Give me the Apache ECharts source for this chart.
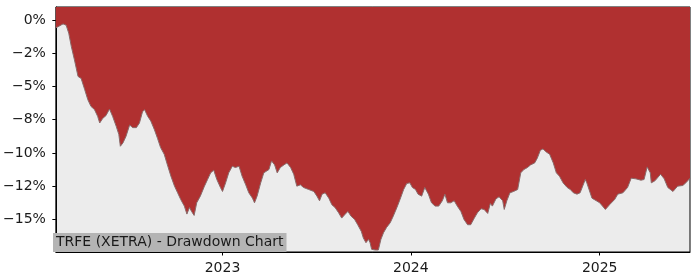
<!DOCTYPE html>
<html>
<head>
<meta charset="utf-8">
<script src="https://cdn.jsdelivr.net/npm/echarts@6/dist/echarts.min.js"></script>
<style>html,body{margin:0;padding:0;background:#fff}#c{width:700px;height:280px}</style>
</head>
<body>
<div id="c"></div>
<script>
const titleText = 'TRFE (XETRA) - Drawdown Chart';
const dates = [
'2022-02-12','2022-02-26','2022-03-04','2022-03-09','2022-03-14','2022-03-20','2022-03-27','2022-04-02','2022-04-09','2022-04-15',
'2022-04-21','2022-04-28','2022-05-04','2022-05-08','2022-05-14','2022-05-20','2022-05-27','2022-06-02','2022-06-09','2022-06-14',
'2022-06-17','2022-06-22','2022-06-28','2022-07-05','2022-07-11','2022-07-18','2022-07-24','2022-07-30','2022-08-03','2022-08-09',
'2022-08-15','2022-08-22','2022-08-28','2022-09-03','2022-09-10','2022-09-17','2022-09-23','2022-09-30','2022-10-06','2022-10-12',
'2022-10-19','2022-10-24','2022-10-29','2022-11-02','2022-11-07','2022-11-12','2022-11-19','2022-11-27','2022-12-03','2022-12-09',
'2022-12-15','2022-12-21','2022-12-28',
'2023-01-01','2023-01-07','2023-01-13','2023-01-20','2023-01-26','2023-02-02','2023-02-08','2023-02-15','2023-02-21','2023-02-28',
'2023-03-04','2023-03-09','2023-03-16','2023-03-22','2023-03-25','2023-04-01','2023-04-06','2023-04-12','2023-04-17','2023-04-23',
'2023-04-30','2023-05-06','2023-05-13','2023-05-19','2023-05-25','2023-06-01','2023-06-07','2023-06-17','2023-06-27','2023-07-03',
'2023-07-08','2023-07-13','2023-07-19','2023-07-26','2023-08-01','2023-08-07','2023-08-14','2023-08-20','2023-08-27','2023-09-01',
'2023-09-07','2023-09-14','2023-09-20','2023-09-27','2023-10-01','2023-10-06','2023-10-11','2023-10-14','2023-10-17','2023-10-24',
'2023-10-30','2023-11-04','2023-11-09','2023-11-15','2023-11-22','2023-11-28','2023-12-05','2023-12-11','2023-12-18','2023-12-24',
'2023-12-30',
'2024-01-04','2024-01-10','2024-01-15','2024-01-22','2024-01-28','2024-02-04','2024-02-10','2024-02-17','2024-02-24','2024-03-02',
'2024-03-07','2024-03-12','2024-03-18','2024-03-25','2024-03-31','2024-04-07','2024-04-13','2024-04-20','2024-04-26','2024-05-03',
'2024-05-09','2024-05-16','2024-05-22','2024-05-29','2024-06-03','2024-06-07','2024-06-14','2024-06-20','2024-06-27','2024-06-30',
'2024-07-05','2024-07-11','2024-07-18','2024-07-26','2024-08-01','2024-08-07','2024-08-14','2024-08-20','2024-08-28','2024-09-02',
'2024-09-08','2024-09-13','2024-09-20','2024-09-26','2024-10-03','2024-10-09','2024-10-15','2024-10-22','2024-10-30','2024-11-05',
'2024-11-11','2024-11-18','2024-11-24','2024-12-04','2024-12-07','2024-12-17',
'2025-01-01','2025-01-12','2025-01-20','2025-01-30','2025-02-05','2025-02-15','2025-02-24','2025-03-03','2025-03-12','2025-03-22',
'2025-03-28','2025-04-03','2025-04-09','2025-04-11','2025-04-18','2025-04-29','2025-05-06','2025-05-13','2025-05-23','2025-06-01',
'2025-06-11','2025-06-17','2025-06-25'
];
const drawdown = [
-0.6,-0.3,-0.4,-1.0,-2.0,-3.0,-4.25,-4.4,-5.25,-6.0,
-6.5,-6.75,-7.25,-7.75,-7.4,-7.2,-6.7,-7.25,-8.0,-8.6,
-9.5,-9.25,-8.75,-7.9,-8.1,-8.1,-7.75,-6.9,-6.75,-7.25,
-7.6,-8.25,-8.9,-9.6,-10.1,-11.0,-11.75,-12.5,-13.0,-13.5,
-14.0,-14.6,-14.1,-14.4,-14.7,-13.75,-13.25,-12.5,-12.0,-11.5,
-11.3,-12.0,-12.6,
-12.9,-12.25,-11.5,-11.0,-11.1,-11.0,-11.75,-12.4,-13.0,-13.4,
-13.75,-13.25,-12.25,-11.5,-11.5,-11.25,-10.6,-10.9,-11.5,-11.1,
-10.9,-10.75,-11.1,-11.6,-12.5,-12.4,-12.6,-12.75,-12.9,-13.25,
-13.6,-13.1,-13.0,-13.4,-13.9,-14.1,-14.5,-14.9,-14.6,-14.4,
-14.75,-15.0,-15.4,-15.9,-16.4,-16.75,-16.5,-16.75,-17.25,-17.3,
-17.3,-16.5,-16.0,-15.6,-15.25,-14.75,-14.1,-13.5,-12.75,-12.3,
-12.25,
-12.6,-12.75,-13.1,-13.25,-12.6,-13.1,-13.75,-14.0,-14.0,-13.6,
-13.1,-13.75,-13.75,-13.6,-14.0,-14.4,-15.0,-15.4,-15.4,-14.9,
-14.5,-14.2,-14.25,-14.55,-13.8,-14.0,-13.45,-13.3,-13.6,-14.25,
-13.6,-13.0,-12.9,-12.75,-11.5,-11.25,-11.1,-10.9,-10.75,-10.4,
-9.8,-9.7,-9.95,-10.1,-10.75,-11.5,-11.75,-12.25,-12.6,-12.75,
-13.0,-13.1,-13.0,-12.0,-12.25,-13.4,
-13.75,-14.25,-13.9,-13.5,-13.1,-13.0,-12.6,-11.9,-11.95,-12.05,
-12.0,-11.05,-11.5,-12.25,-12.1,-11.6,-11.95,-12.6,-12.9,-12.5,
-12.45,-12.25,-11.9
];
const yTickValues = [0, -2.5, -5, -7.5, -10, -12.5, -15];
const yTickLabels = ['0%', '\u22122%', '\u22125%', '\u22128%', '\u221210%', '\u221212%', '\u221215%'];
const xTickDates = ['2023-01-01', '2024-01-01', '2025-01-01'];
const xTickLabels = ['2023', '2024', '2025'];

const FONT = 'DejaVu Sans';
const toTime = d => Date.parse(d + 'T00:00:00Z');
const xTickTimes = xTickDates.map(toTime);
const seriesData = dates.map((d, i) => [toTime(d), drawdown[i]]);

const chart = echarts.init(document.getElementById('c'), null, {renderer: 'canvas'});
chart.setOption({
  animation: false,
  backgroundColor: '#ffffff',
  title: {
    text: titleText,
    left: 53,
    bottom: 28,
    padding: [2, 3, 2, 3],
    backgroundColor: '#b4b4b4',
    textStyle: {fontFamily: FONT, fontSize: 14, fontWeight: 'normal', color: '#1a1a1a', lineHeight: 15},
    z: 10
  },
  grid: {
    left: 53, right: 10, top: 7, bottom: 28,
    show: true, backgroundColor: '#ececec', borderColor: '#000', borderWidth: 1
  },
  xAxis: {
    type: 'value',
    min: seriesData[0][0],
    max: seriesData[seriesData.length - 1][0],
    axisLine: {show: true, onZero: false, lineStyle: {color: '#000', width: 1}},
    splitLine: {show: false},
    axisTick: {show: true, length: 3.5, lineStyle: {color: '#000'}, customValues: xTickTimes},
    axisLabel: {
      customValues: xTickTimes,
      margin: 9,
      fontFamily: FONT, fontSize: 14, color: '#1a1a1a',
      formatter: function (v) {
        const i = xTickTimes.findIndex(t => Math.abs(t - v) < 1000);
        return i >= 0 ? xTickLabels[i] : '';
      }
    }
  },
  yAxis: {
    type: 'value',
    min: -17.45,
    max: 0.97,
    axisLine: {show: true, onZero: false, lineStyle: {color: '#000', width: 1}},
    splitLine: {show: false},
    axisTick: {show: true, length: 3.5, lineStyle: {color: '#000'}, customValues: yTickValues},
    axisLabel: {
      customValues: yTickValues,
      margin: 10,
      fontFamily: FONT, fontSize: 14, color: '#1a1a1a',
      formatter: function (v) {
        const i = yTickValues.findIndex(t => Math.abs(t - v) < 1e-6);
        return i >= 0 ? yTickLabels[i] : '';
      }
    }
  },
  series: [{
    type: 'line',
    data: seriesData,
    showSymbol: false,
    symbol: 'none',
    smooth: false,
    lineStyle: {color: '#8a6a6a', width: 1},
    areaStyle: {color: '#b03030', opacity: 1, origin: 'end'},
    z: 2
  }]
});
</script>
</body>
</html>
